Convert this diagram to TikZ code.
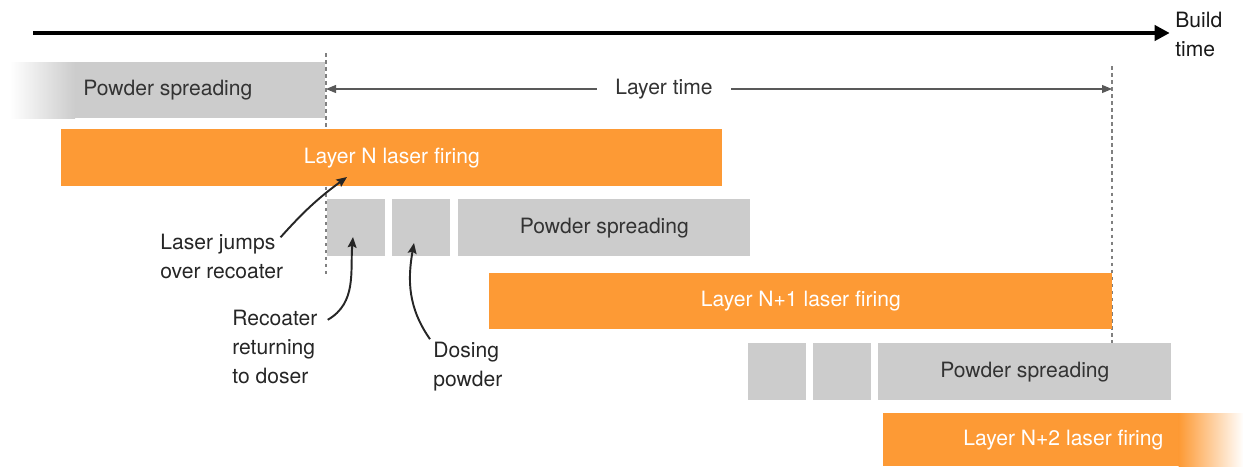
\documentclass[tikz,border=0pt]{standalone}
\usepackage{fontspec}
\setmainfont{TeX Gyre Heros}
\usetikzlibrary{arrows.meta}
\definecolor{laserorange}{HTML}{FD9A35}
\definecolor{powdergray}{HTML}{CCCCCC}
\definecolor{labelgray}{HTML}{333333}

\begin{document}
\begin{tikzpicture}[
    bar/.style={inner sep=0, minimum height=\barheight cm, anchor=north west, font=\barfontsize},
    powderbar/.style={bar, fill=powdergray, text=labelgray},
    laserbar/.style={bar, fill=laserorange, text=white},
    marker/.style={draw=black!50, line width=0.6pt, dash pattern=on 2pt off 2pt},
    span/.style={draw=black!65, line width=0.6pt, {Triangle[length=0.2cm,width=0.16cm]}-{Triangle[length=0.2cm,width=0.16cm]}},
    callout/.style={draw=black!85, line width=1.1pt, -{Stealth[length=6pt,width=5pt,inset=1pt]}},
    note/.style={align=left, inner sep=0, anchor=west, font=\notefontsize, text=black!85}
  ]
    \pgfmathsetmacro{\barheight}{1.14}
    \pgfmathsetmacro{\stepwidth}{1.16}
    \pgfmathsetmacro{\fadewidth}{1.3}
    \providecommand{\barfontsize}{\fontsize{12}{16}\selectfont}
    \providecommand{\notefontsize}{\fontsize{12}{16.5}\selectfont}
    \useasboundingbox (0,0) rectangle (24.86,-9.32);

    % build time axis
    \coordinate (axisstart) at (0.66,-0.66);
    \node[note, text=black!90] (build) at (23.5,-0.68) {Build\\time};
    \draw[line width=2.3pt, -{Triangle[length=0.3cm,width=0.3cm]}] (axisstart) -- ([xshift=-3pt]build.west |- axisstart);

    % layer time markers
    \coordinate (layerstart) at (6.52,-1.06);
    \coordinate (layerend) at (22.24,-1.32);
    \draw[marker] (layerstart) -- ++(0,-4.44);
    \draw[marker] (layerend) -- ++(0,-5.9);
    \draw[span] (layerstart |- 0,-1.78) -- node[pos=0.43, fill=white, inner xsep=0.36cm, font=\barfontsize, text=labelgray] (layertime) {Layer time} (layerend |- 0,-1.78);

    % bars
    \node[powderbar, minimum width=6.3cm, minimum height=1.12cm] (powder0) at (0.2,-1.24) {Powder spreading};
    \shade[left color=white, right color=powdergray] (powder0.north west) rectangle ([xshift=\fadewidth cm]powder0.south west);
    \node[laserbar, minimum width=13.22cm] (layerN) at (1.22,-2.58) {Layer N laser firing};

    \node[powderbar, minimum width=\stepwidth cm] (return1) at (6.54,-3.98) {};
    \node[powderbar, minimum width=\stepwidth cm] (dose1) at (7.84,-3.98) {};
    \node[powderbar, minimum width=5.84cm] (powder1) at (9.16,-3.98) {Powder spreading};
    \node[laserbar, minimum width=12.46cm, minimum height=1.12cm] (layerN1) at (9.78,-5.46) {Layer N+1 laser firing};

    \node[powderbar, minimum width=\stepwidth cm] (return2) at (14.96,-6.86) {};
    \node[powderbar, minimum width=\stepwidth cm] (dose2) at (16.26,-6.86) {};
    \node[powderbar, minimum width=5.86cm] (powder2) at (17.56,-6.86) {Powder spreading};
    \node[laserbar, minimum width=7.2cm, minimum height=1.06cm] (layerN2) at (17.66,-8.26) {Layer N+2 laser firing};
    \shade[left color=laserorange, right color=white] ([xshift=-\fadewidth cm]layerN2.north east) rectangle (layerN2.south east);

    % notes
    \node[note] (jump) at (3.2,-5.12) {Laser jumps\\over recoater};
    \node[note] (recoater) at (4.64,-6.94) {Recoater\\returning\\to doser};
    \node[note] (dosing) at (8.66,-7.33) {Dosing\\powder};
    \coordinate (jumptip) at (6.94,-3.54);
    \coordinate (returntip) at (7.06,-4.74);
    \coordinate (dosetip) at (8.28,-4.86);
    \draw[callout] ([shift={(-0.06,-0.08)}]jump.north east) to[bend left=6] (jumptip);
    \draw[callout] ([shift={(0.2,-0.2)}]recoater.north east) to[out=30, in=-95] (returntip);
    \draw[callout] ([shift={(-0.06,0.05)}]dosing.north west) to[out=125, in=-100] (dosetip);
\end{tikzpicture}
\end{document}
